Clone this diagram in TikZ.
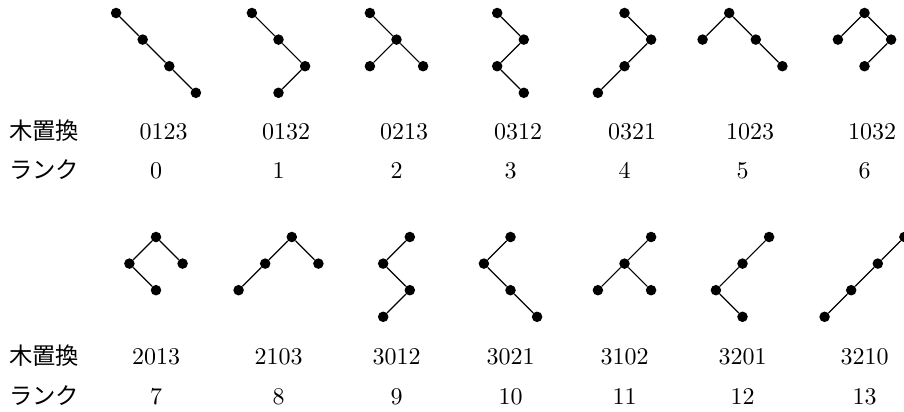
\documentclass[tikz,border=0pt]{standalone}
\usepackage{fontspec}
\newfontfamily\jpfont{Noto Sans CJK JP}
\newfontfamily\numfont[Extension=.otf]{lmroman10-regular}
\begin{document}
\begin{tikzpicture}[x=0.75pt, y=-0.75pt,
  dot/.style={circle, fill=black, inner sep=0pt, minimum size=7.9pt},
  edge/.style={line width=0.9pt},
  perm/.style={anchor=base, inner sep=0pt, font=\numfont\fontsize{18}{20}\selectfont},
  rank/.style={perm},
  jlabel/.style={anchor=base west, inner sep=0pt, font=\jpfont\fontsize{17.5}{20}\selectfont},
  tree/.style={x=19.95pt, y=-19.95pt}]
\useasboundingbox (0,0) rectangle (904,411);

% ---------- first row of trees ----------
% 0123
\begin{scope}[shift={(116.1,13)}, tree]
  \node[dot] (t0a) at (0,0) {};
  \node[dot] (t0b) at (1,1) {};
  \node[dot] (t0c) at (2,2) {};
  \node[dot] (t0d) at (3,3) {};
  \draw[edge] (t0a) -- (t0b) -- (t0c) -- (t0d);
\end{scope}
% 0132
\begin{scope}[shift={(251.9,13)}, tree]
  \node[dot] (t1a) at (0,0) {};
  \node[dot] (t1b) at (1,1) {};
  \node[dot] (t1c) at (2,2) {};
  \node[dot] (t1d) at (1,3) {};
  \draw[edge] (t1a) -- (t1b) -- (t1c) -- (t1d);
\end{scope}
% 0213
\begin{scope}[shift={(369.9,13)}, tree]
  \node[dot] (t2a) at (0,0) {};
  \node[dot] (t2b) at (1,1) {};
  \node[dot] (t2c) at (0,2) {};
  \node[dot] (t2d) at (2,2) {};
  \draw[edge] (t2a) -- (t2b) (t2b) -- (t2c) (t2b) -- (t2d);
\end{scope}
% 0312
\begin{scope}[shift={(497.2,13)}, tree]
  \node[dot] (t3a) at (0,0) {};
  \node[dot] (t3b) at (1,1) {};
  \node[dot] (t3c) at (0,2) {};
  \node[dot] (t3d) at (1,3) {};
  \draw[edge] (t3a) -- (t3b) -- (t3c) -- (t3d);
\end{scope}
% 0321
\begin{scope}[shift={(624.5,13)}, tree]
  \node[dot] (t4a) at (0,0) {};
  \node[dot] (t4b) at (1,1) {};
  \node[dot] (t4c) at (0,2) {};
  \node[dot] (t4d) at (-1,3) {};
  \draw[edge] (t4a) -- (t4b) -- (t4c) -- (t4d);
\end{scope}
% 1023
\begin{scope}[shift={(729.2,13)}, tree]
  \node[dot] (t5a) at (0,0) {};
  \node[dot] (t5b) at (-1,1) {};
  \node[dot] (t5c) at (1,1) {};
  \node[dot] (t5d) at (2,2) {};
  \draw[edge] (t5a) -- (t5b) (t5a) -- (t5c) -- (t5d);
\end{scope}
% 1032
\begin{scope}[shift={(864.5,13)}, tree]
  \node[dot] (t6a) at (0,0) {};
  \node[dot] (t6b) at (-1,1) {};
  \node[dot] (t6c) at (1,1) {};
  \node[dot] (t6d) at (0,2) {};
  \draw[edge] (t6a) -- (t6b) (t6a) -- (t6c) -- (t6d);
\end{scope}

% ---------- second row of trees ----------
% 2013
\begin{scope}[shift={(156,237)}, tree]
  \node[dot] (u0a) at (0,0) {};
  \node[dot] (u0b) at (-1,1) {};
  \node[dot] (u0c) at (1,1) {};
  \node[dot] (u0d) at (0,2) {};
  \draw[edge] (u0a) -- (u0c) (u0a) -- (u0b) -- (u0d);
\end{scope}
% 2103
\begin{scope}[shift={(291.8,237)}, tree]
  \node[dot] (u1a) at (0,0) {};
  \node[dot] (u1b) at (-1,1) {};
  \node[dot] (u1c) at (1,1) {};
  \node[dot] (u1d) at (-2,2) {};
  \draw[edge] (u1a) -- (u1c) (u1a) -- (u1b) -- (u1d);
\end{scope}
% 3012
\begin{scope}[shift={(409.8,237)}, tree]
  \node[dot] (u2a) at (0,0) {};
  \node[dot] (u2b) at (-1,1) {};
  \node[dot] (u2c) at (0,2) {};
  \node[dot] (u2d) at (-1,3) {};
  \draw[edge] (u2a) -- (u2b) -- (u2c) -- (u2d);
\end{scope}
% 3021
\begin{scope}[shift={(510.5,237)}, tree]
  \node[dot] (u3a) at (0,0) {};
  \node[dot] (u3b) at (-1,1) {};
  \node[dot] (u3c) at (0,2) {};
  \node[dot] (u3d) at (1,3) {};
  \draw[edge] (u3a) -- (u3b) -- (u3c) -- (u3d);
\end{scope}
% 3102
\begin{scope}[shift={(651.1,237)}, tree]
  \node[dot] (u4a) at (0,0) {};
  \node[dot] (u4b) at (-1,1) {};
  \node[dot] (u4c) at (-2,2) {};
  \node[dot] (u4d) at (0,2) {};
  \draw[edge] (u4a) -- (u4b) (u4b) -- (u4c) (u4b) -- (u4d);
\end{scope}
% 3201
\begin{scope}[shift={(769.1,237)}, tree]
  \node[dot] (u5a) at (0,0) {};
  \node[dot] (u5b) at (-1,1) {};
  \node[dot] (u5c) at (-2,2) {};
  \node[dot] (u5d) at (-1,3) {};
  \draw[edge] (u5a) -- (u5b) -- (u5c) -- (u5d);
\end{scope}
% 3210
\begin{scope}[shift={(904.4,237)}, tree]
  \node[dot] (u6a) at (0,0) {};
  \node[dot] (u6b) at (-1,1) {};
  \node[dot] (u6c) at (-2,2) {};
  \node[dot] (u6d) at (-3,3) {};
  \draw[edge] (u6a) -- (u6b) -- (u6c) -- (u6d);
\end{scope}

% ---------- row headings ----------
\node[jlabel] (h1) at (9,139)   {木置換};
\node[jlabel] (h2) at (9,178.5) {ランク};
\node[jlabel] (h3) at (9,364.5) {木置換};
\node[jlabel] (h4) at (9,404.5) {ランク};

% ---------- first row labels ----------
\node[perm] (p0) at (163.5,139) {0123};
\node[perm] (p1) at (286,139)   {0132};
\node[perm] (p2) at (404,139)   {0213};
\node[perm] (p3) at (518,139)   {0312};
\node[perm] (p4) at (632,139)   {0321};
\node[perm] (p5) at (750,139)   {1023};
\node[perm] (p6) at (872,139)   {1032};
\node[rank] (r0) at (156,178.5)   {0};
\node[rank] (r1) at (278.5,178.5) {1};
\node[rank] (r2) at (396.5,178.5) {2};
\node[rank] (r3) at (510.5,178.5) {3};
\node[rank] (r4) at (624.5,178.5) {4};
\node[rank] (r5) at (742.5,178.5) {5};
\node[rank] (r6) at (864.5,178.5) {6};

% ---------- second row labels ----------
\node[perm] (q0) at (156,364.5)   {2013};
\node[perm] (q1) at (278.5,364.5) {2103};
\node[perm] (q2) at (396.5,364.5) {3012};
\node[perm] (q3) at (510.5,364.5) {3021};
\node[perm] (q4) at (624.5,364.5) {3102};
\node[perm] (q5) at (742.5,364.5) {3201};
\node[perm] (q6) at (864.5,364.5) {3210};
\node[rank] (s0) at (156,404.5)   {7};
\node[rank] (s1) at (278.5,404.5) {8};
\node[rank] (s2) at (396.5,404.5) {9};
\node[rank] (s3) at (510.5,404.5) {10};
\node[rank] (s4) at (624.5,404.5) {11};
\node[rank] (s5) at (742.5,404.5) {12};
\node[rank] (s6) at (864.5,404.5) {13};
\end{tikzpicture}
\end{document}
